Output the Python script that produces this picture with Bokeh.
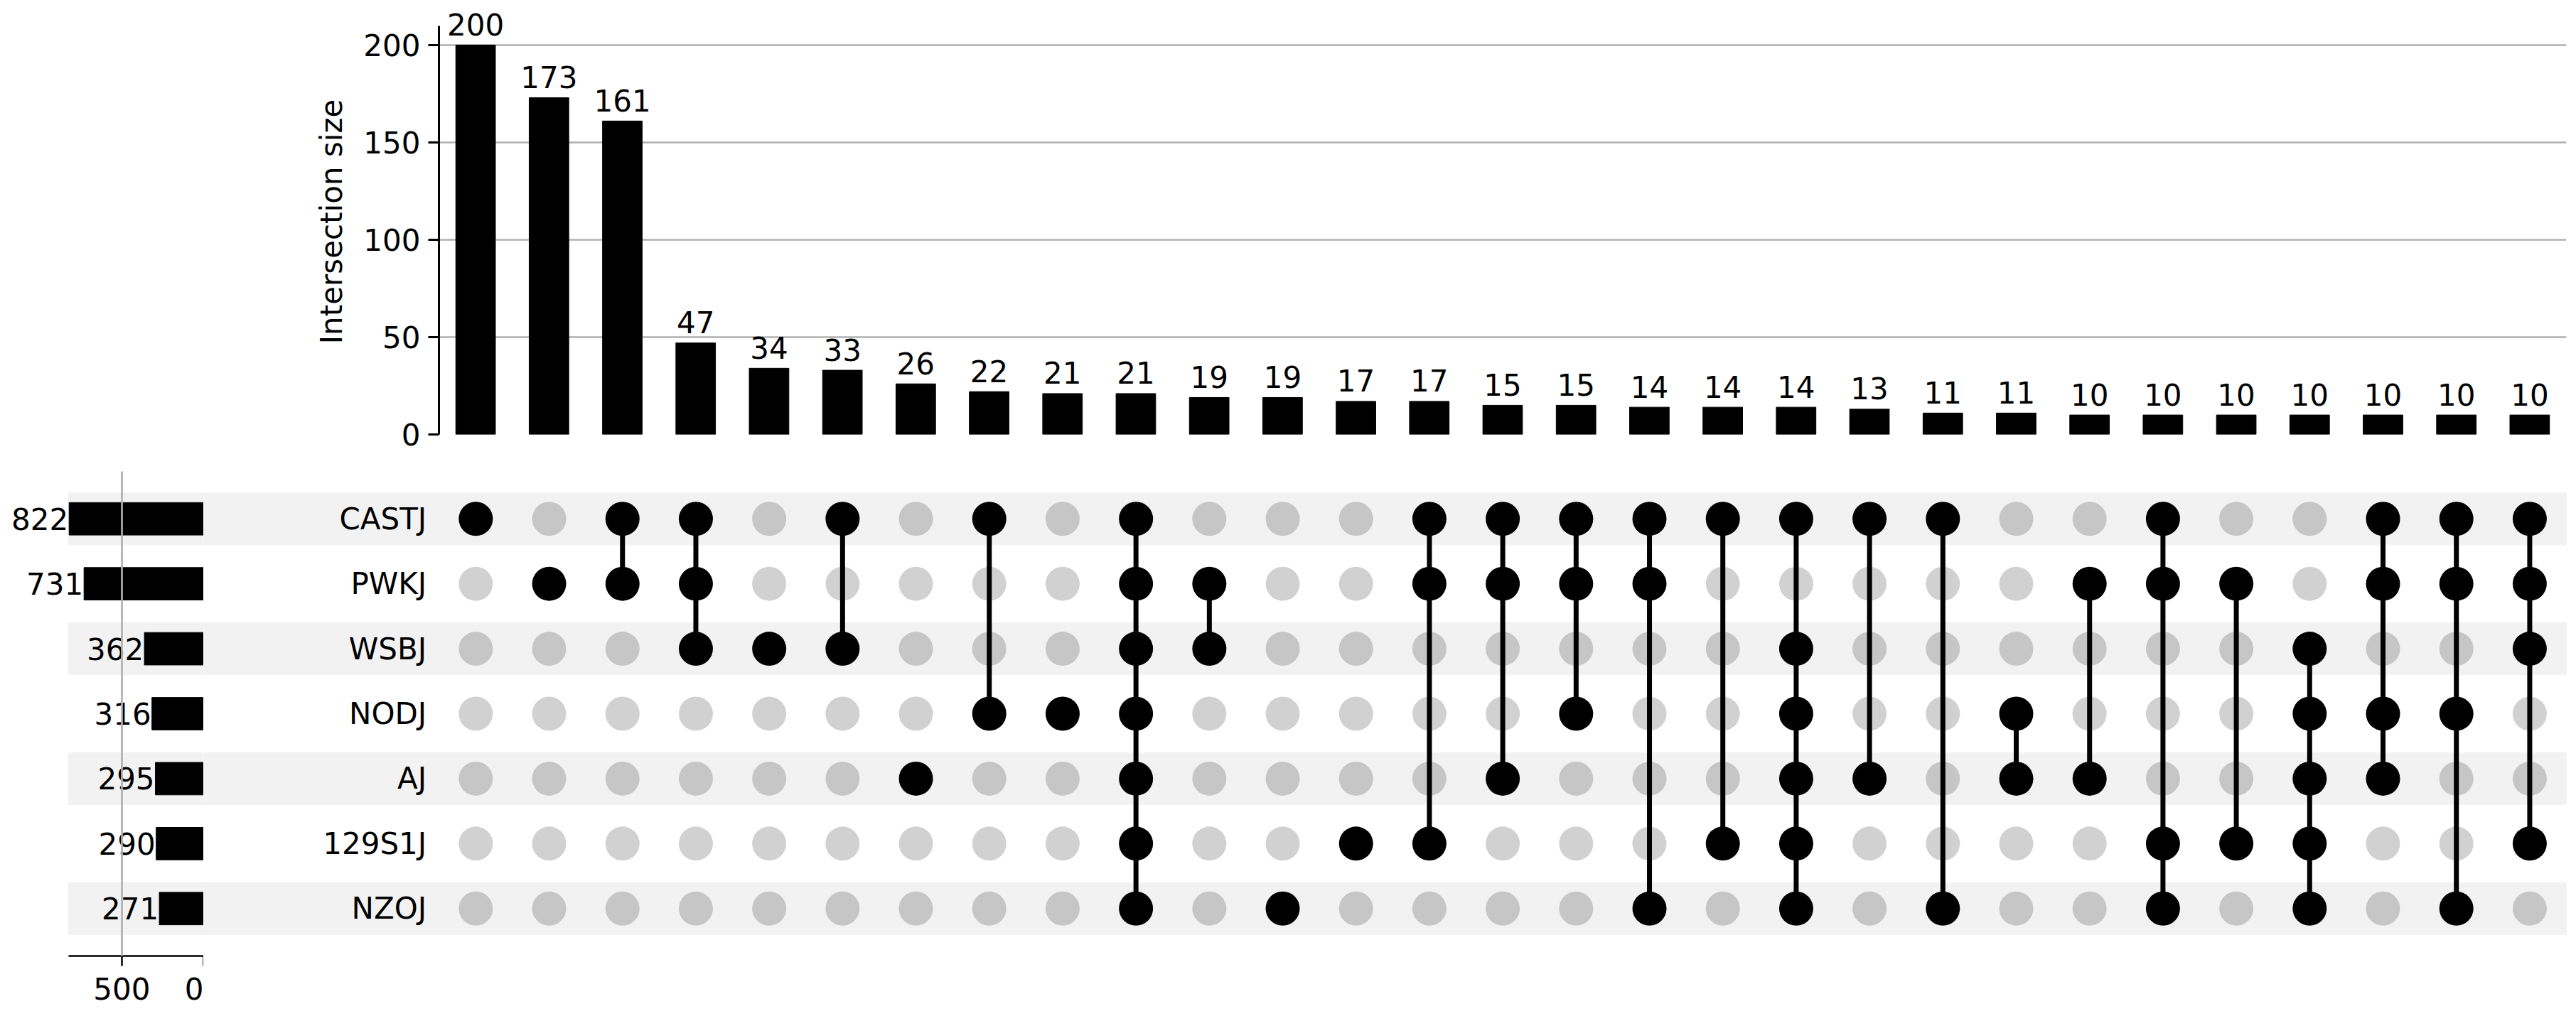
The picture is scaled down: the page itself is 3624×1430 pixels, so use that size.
from bokeh.plotting import figure
from bokeh.layouts import column, row
from bokeh.models import Range1d, FixedTicker
from bokeh.embed import file_html
from bokeh.resources import INLINE
from bokeh.core.properties import value

FONT = "DejaVu Sans"
FS = "42px"

# ---------------- data ----------------
sets = ["CASTJ", "PWKJ", "WSBJ", "NODJ", "AJ", "129S1J", "NZOJ"]
set_totals = [822, 731, 362, 316, 295, 290, 271]

intersection_sizes = [200, 173, 161, 47, 34, 33, 26, 22, 21, 21, 19, 19, 17, 17,
                      15, 15, 14, 14, 14, 13, 11, 11, 10, 10, 10, 10, 10, 10, 10]

intersection_members = [
    ["CASTJ"],
    ["PWKJ"],
    ["CASTJ", "PWKJ"],
    ["CASTJ", "PWKJ", "WSBJ"],
    ["WSBJ"],
    ["CASTJ", "WSBJ"],
    ["AJ"],
    ["CASTJ", "NODJ"],
    ["NODJ"],
    ["CASTJ", "PWKJ", "WSBJ", "NODJ", "AJ", "129S1J", "NZOJ"],
    ["PWKJ", "WSBJ"],
    ["NZOJ"],
    ["129S1J"],
    ["CASTJ", "PWKJ", "129S1J"],
    ["CASTJ", "PWKJ", "AJ"],
    ["CASTJ", "PWKJ", "NODJ"],
    ["CASTJ", "PWKJ", "NZOJ"],
    ["CASTJ", "129S1J"],
    ["CASTJ", "WSBJ", "NODJ", "AJ", "129S1J", "NZOJ"],
    ["CASTJ", "AJ"],
    ["CASTJ", "NZOJ"],
    ["NODJ", "AJ"],
    ["PWKJ", "AJ"],
    ["CASTJ", "PWKJ", "129S1J", "NZOJ"],
    ["PWKJ", "129S1J"],
    ["WSBJ", "NODJ", "AJ", "129S1J", "NZOJ"],
    ["CASTJ", "PWKJ", "NODJ", "AJ"],
    ["CASTJ", "PWKJ", "NODJ", "NZOJ"],
    ["CASTJ", "PWKJ", "WSBJ", "129S1J"],
]

size_ticks = [0, 50, 100, 150, 200]
total_ticks = [0, 500]

# ---------------- derived ----------------
n_sets = len(sets)
n_int = len(intersection_sizes)
row_y = {s: n_sets - 1 - i for i, s in enumerate(sets)}
xs = list(range(n_int))
set_ys = [row_y[s] for s in sets]
shade_rows = [row_y[s] for i, s in enumerate(sets) if i % 2 == 0]

GRID = "#b0b0b0"
SHADE = "#f2f2f2"

def clean(p):
    p.outline_line_color = None
    p.background_fill_color = "white"
    p.border_fill_color = "white"

# ---------------- intersection size bars (top) ----------------
top = figure(width=3614, height=640,
             x_range=Range1d(-0.5, n_int - 0.5), y_range=Range1d(0, 218.6),
             output_backend="svg", toolbar_location=None,
             x_axis_location=None,
             min_border_left=617, min_border_right=4,
             min_border_top=12, min_border_bottom=29)
clean(top)
top.vbar(x=xs, top=intersection_sizes, width=0.54, color="black")
top.text(x=xs, y=intersection_sizes, text=[str(v) for v in intersection_sizes],
         text_align="center", text_baseline="alphabetic", y_offset=-29,
         text_font=value(FONT), text_font_size=value(FS), text_color="black")
ax = top.yaxis[0]
ax.ticker = FixedTicker(ticks=size_ticks)
ax.bounds = (0, 210)
ax.axis_label = "Intersection size"
ax.axis_label_text_font = FONT
ax.axis_label_text_font_size = FS
ax.axis_label_text_font_style = "normal"
ax.axis_label_text_color = "black"
ax.axis_label_standoff = 17
ax.major_label_text_font = FONT
ax.major_label_text_font_size = FS
ax.major_label_text_color = "black"
ax.major_label_standoff = 11
ax.major_tick_out = 15
ax.major_tick_in = 0
ax.minor_tick_out = 0
ax.minor_tick_in = 0
ax.axis_line_width = 3
ax.major_tick_line_width = 3
ax.axis_line_color = "black"
ax.major_tick_line_color = "black"
top.xgrid.visible = False
top.ygrid.grid_line_color = GRID
top.ygrid.grid_line_width = 2.5

# ---------------- set totals (bottom-left) ----------------
yr = (-0.73, n_sets - 1 + 0.73)
tot = figure(width=286, height=785,
             x_range=Range1d(1190, 0), y_range=Range1d(*yr),
             output_backend="svg", toolbar_location=None,
             y_axis_location=None,
             min_border_left=12, min_border_right=0,
             min_border_top=23, min_border_bottom=80)
clean(tot)
tot.hbar(y=shade_rows, left=826, right=0, height=0.8, color=SHADE)
tot.hbar(y=set_ys, left=set_totals, right=0, height=0.5, color="black")
tot.text(x=set_totals, y=set_ys, text=[str(v) for v in set_totals],
         text_align="right", text_baseline="middle", x_offset=-1,
         text_font=value(FONT), text_font_size=value(FS), text_color="black")
bx = tot.xaxis[0]
bx.ticker = FixedTicker(ticks=total_ticks)
bx.bounds = (0, 826)
bx.major_label_text_font = FONT
bx.major_label_text_font_size = FS
bx.major_label_text_color = "black"
bx.major_label_standoff = 16
bx.major_tick_out = 14
bx.major_tick_in = 0
bx.minor_tick_out = 0
bx.minor_tick_in = 0
bx.axis_line_width = 2.5
bx.major_tick_line_width = 2.5
bx.axis_line_color = "black"
bx.major_tick_line_color = "black"
tot.ygrid.visible = False
tot.xgrid.ticker = FixedTicker(ticks=total_ticks)
tot.xgrid.grid_line_color = GRID
tot.xgrid.grid_line_width = 2.7
tot.xgrid.level = "overlay"

# ---------------- matrix (bottom-right) ----------------
mat = figure(width=3328, height=785,
             x_range=Range1d(-3.71, n_int - 0.5), y_range=Range1d(*yr),
             output_backend="svg", toolbar_location=None,
             x_axis_location=None, y_axis_location=None,
             min_border_left=0, min_border_right=4,
             min_border_top=23, min_border_bottom=80)
clean(mat)
mat.xgrid.visible = False
mat.ygrid.visible = False
mat.hbar(y=shade_rows, left=-3.71, right=n_int - 0.5, height=0.8, color=SHADE)
mat.text(x=[-0.67] * n_sets, y=set_ys, text=sets,
         text_align="right", text_baseline="middle",
         text_font=value(FONT), text_font_size=value(FS), text_color="black")

in_x, in_y, on_x, on_y = [], [], [], []
sx0, sy0, sx1, sy1 = [], [], [], []
for i, members in enumerate(intersection_members):
    ys = []
    for s in sets:
        if s in members:
            on_x.append(i); on_y.append(row_y[s]); ys.append(row_y[s])
        else:
            in_x.append(i); in_y.append(row_y[s])
    if len(ys) > 1:
        sx0.append(i); sy0.append(min(ys)); sx1.append(i); sy1.append(max(ys))

mat.scatter(x=in_x, y=in_y, size=48, marker="circle",
            fill_color="black", fill_alpha=0.18, line_color=None)
mat.segment(x0=sx0, y0=sy0, x1=sx1, y1=sy1, line_color="black", line_width=7)
mat.scatter(x=on_x, y=on_y, size=48, marker="circle",
            fill_color="black", line_color=None)

layout = column(top, row(tot, mat))
open("out.html", "w").write(file_html(layout, INLINE))
